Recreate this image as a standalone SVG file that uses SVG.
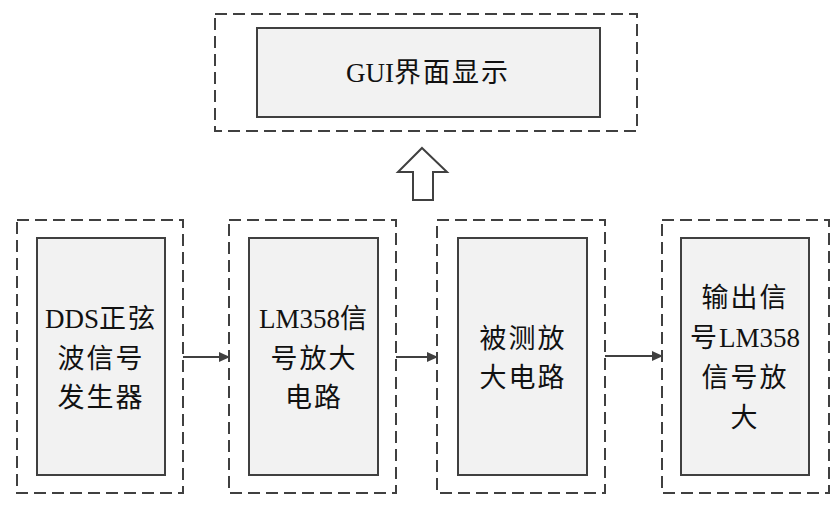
<svg xmlns="http://www.w3.org/2000/svg" width="839" height="513" viewBox="0 0 839 513">
<style>
.dash{fill:none;stroke:#404040;stroke-width:2;stroke-dasharray:12 6}
.box{fill:#f2f2f2;stroke:#404040;stroke-width:2}
.t{font-family:"Liberation Serif","Noto Sans CJK SC",serif;font-size:27px;fill:#111;text-anchor:middle;letter-spacing:2px}
.l{letter-spacing:0}
.c{fill:none;stroke:#404040;stroke-width:2}
</style>
<defs>
<marker id="ah" markerWidth="11" markerHeight="10" refX="10" refY="5" orient="auto" markerUnits="userSpaceOnUse">
<path d="M0,0 L11,5 L0,10 Z" fill="#404040"/>
</marker>
</defs>
<rect width="839" height="513" fill="#fff"/>
<g id="gui">
<rect class="dash" x="215" y="14" width="422" height="117"/>
<rect class="box" x="257" y="28" width="343" height="89"/>
<text class="t" x="428" y="82"><tspan class="l">GUI</tspan>界面显示</text>
</g>
<g id="dds">
<rect class="dash" x="17" y="220" width="166" height="273"/>
<rect class="box" x="37" y="238" width="128" height="237"/>
<text class="t" x="101" y="328"><tspan class="l">DDS</tspan>正弦</text>
<text class="t" x="101" y="368">波信号</text>
<text class="t" x="101" y="407">发生器</text>
</g>
<g id="lm358">
<rect class="dash" x="229" y="220" width="167" height="273"/>
<rect class="box" x="249" y="238" width="129" height="237"/>
<text class="t" x="314" y="328"><tspan class="l">LM358</tspan>信</text>
<text class="t" x="314" y="368">号放大</text>
<text class="t" x="314" y="407">电路</text>
</g>
<g id="dut">
<rect class="dash" x="437" y="220" width="168" height="273"/>
<rect class="box" x="458" y="238" width="129" height="237"/>
<text class="t" x="523" y="348">被测放</text>
<text class="t" x="523" y="387">大电路</text>
</g>
<g id="out">
<rect class="dash" x="662" y="220" width="167" height="273"/>
<rect class="box" x="681" y="238" width="128" height="237"/>
<text class="t" x="745" y="307">输出信</text>
<text class="t" x="745" y="347">号<tspan class="l">LM358</tspan></text>
<text class="t" x="745" y="387">信号放</text>
<text class="t" x="745" y="427">大</text>
</g>
<g id="connectors">
<line class="c" x1="183" y1="357" x2="229" y2="357" marker-end="url(#ah)"/>
<line class="c" x1="396" y1="357" x2="437" y2="357" marker-end="url(#ah)"/>
<line class="c" x1="605" y1="356" x2="662" y2="356" marker-end="url(#ah)"/>
<path d="M422,148 L447,172 L433,172 L433,200 L413,200 L413,172 L398,172 Z" fill="#fff" stroke="#404040" stroke-width="2" stroke-linejoin="miter"/>
</g>
</svg>
